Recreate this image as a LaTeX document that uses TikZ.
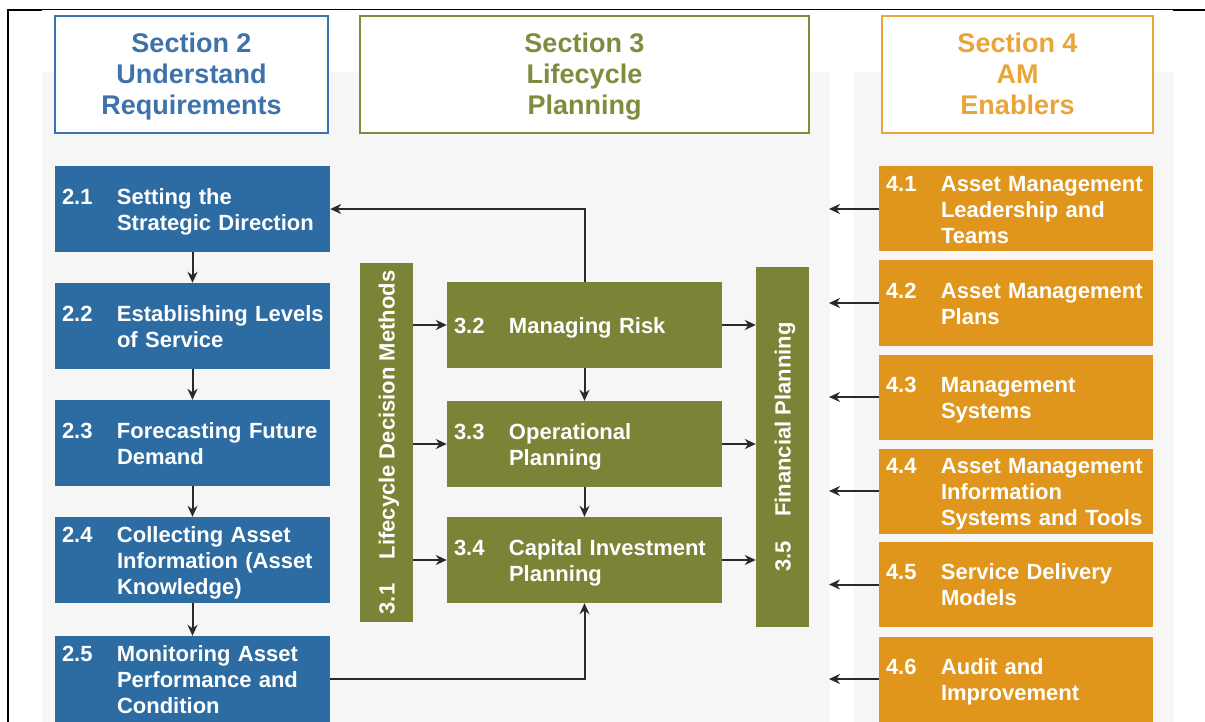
\documentclass[tikz,border=0pt]{standalone}
\usepackage{fontspec}
\usepackage{graphicx}
\setmainfont{Liberation Sans}
\usetikzlibrary{arrows.meta}

\definecolor{secblue}{HTML}{2D6CA2}
\definecolor{headblue}{HTML}{3E72AA}
\definecolor{secgreen}{HTML}{7A8336}
\definecolor{headgreen}{HTML}{7E8C3E}
\definecolor{secorange}{HTML}{E0961C}
\definecolor{headorange}{HTML}{E9A43A}
\definecolor{panelgray}{HTML}{F6F6F6}
\definecolor{arrowgray}{HTML}{2A2A2A}

\newcommand{\boxtext}[2]{\raisebox{-3pt}[\height][\depth]{\begin{tabular}{@{}p{55pt}@{}l@{}}#1 & \begin{tabular}[t]{@{}l@{}}#2\end{tabular}\end{tabular}}}
\newcommand{\headtext}[1]{\raisebox{-3pt}[\height][\depth]{\begin{tabular}{@{}c@{}}#1\end{tabular}}}

\tikzset{
  secbox/.style={minimum height=86pt, inner xsep=7pt, inner ysep=0pt, align=left, text=white,
    font=\fontsize{22}{26}\selectfont\bfseries},
  bluebox/.style={secbox, fill=secblue, minimum width=275pt, text width=261pt},
  greenbox/.style={secbox, fill=secgreen, minimum width=275pt, text width=261pt},
  orangebox/.style={secbox, fill=secorange, minimum width=274pt, text width=260pt, minimum height=85pt},
  greenbar/.style={fill=secgreen, text=white, inner sep=0pt, minimum width=53pt,
    font=\fontsize{22}{26}\selectfont\bfseries},
  headbox/.style={line width=1.5pt, fill=white, minimum height=117pt,
    font=\fontsize{27}{31}\selectfont\bfseries},
  arr/.style={draw=arrowgray, line width=2pt, -{Stealth[length=11pt,width=10pt]}},
}

\begin{document}
\begin{tikzpicture}[x=1pt,y=-1pt]
\useasboundingbox (0,0) rectangle (1205,722);

\fill[panelgray] (42,72) rectangle (830,722);
\fill[panelgray] (854,72) rectangle (1174,722);

\draw[line width=2.5pt] (8,722) -- (8,10) -- (42,10);
\draw[line width=1.2pt] (42,9.5) -- (1173,9.5);
\draw[line width=2.5pt] (1173,10) -- (1205,10);

% headers
\node[headbox, draw=headblue, text=headblue, minimum width=273pt] (h2) at (191.5,74.5) {\headtext{Section 2\\Understand\\Requirements}};
\node[headbox, draw=headgreen, text=headgreen, minimum width=449pt] (h3) at (584.5,74.5) {\headtext{Section 3\\Lifecycle\\Planning}};
\node[headbox, draw=headorange, text=headorange, minimum width=271pt] (h4) at (1017.5,74.5) {\headtext{Section 4\\AM\\Enablers}};

% section 2
\node[bluebox] (b21) at (192.5,209) {\boxtext{2.1}{Setting the\\Strategic Direction}};
\node[bluebox] (b22) at (192.5,326) {\boxtext{2.2}{Establishing Levels\\of Service}};
\node[bluebox] (b23) at (192.5,443) {\boxtext{2.3}{Forecasting Future\\Demand}};
\node[bluebox] (b24) at (192.5,560) {\boxtext{2.4}{Collecting Asset\\Information (Asset\\Knowledge)}};
\node[bluebox] (b25) at (192.5,679) {\boxtext{2.5}{Monitoring Asset\\Performance and\\Condition}};

% section 3
\node[greenbar, minimum height=359pt] (b31) at (386.5,442.5) {\rotatebox{90}{\boxtext{3.1}{Lifecycle Decision Methods}}};
\node[greenbox] (b32) at (584.5,325) {\boxtext{3.2}{Managing Risk}};
\node[greenbox] (b33) at (584.5,444) {\boxtext{3.3}{Operational\\Planning}};
\node[greenbox] (b34) at (584.5,560) {\boxtext{3.4}{Capital Investment\\Planning}};
\node[greenbar, minimum height=360pt] (b35) at (782.5,447) {\rotatebox{90}{\boxtext{3.5}{Financial Planning}}};

% section 4
\node[orangebox] (b41) at (1016,209) {\boxtext{4.1}{Asset Management\\Leadership and\\Teams}};
\node[orangebox] (b42) at (1016,303) {\boxtext{4.2}{Asset Management\\Plans}};
\node[orangebox] (b43) at (1016,397) {\boxtext{4.3}{Management\\Systems}};
\node[orangebox] (b44) at (1016,491) {\boxtext{4.4}{Asset Management\\Information\\Systems and Tools}};
\node[orangebox] (b45) at (1016,584.5) {\boxtext{4.5}{Service Delivery\\Models}};
\node[orangebox] (b46) at (1016,679) {\boxtext{4.6}{Audit and\\Improvement}};

\coordinate (gap) at (829,0);

\draw[arr] (b21) -- (b22);
\draw[arr] (b22) -- (b23);
\draw[arr] (b23) -- (b24);
\draw[arr] (b24) -- (b25);
\draw[arr] (b25.east) -| (b34.south);
\draw[arr] (b32.north) |- (b21.east);

\draw[arr] (b32) -- (b33);
\draw[arr] (b33) -- (b34);
\draw[arr] (b31.east |- b32.west) -- (b32.west);
\draw[arr] (b31.east |- b33.west) -- (b33.west);
\draw[arr] (b31.east |- b34.west) -- (b34.west);
\draw[arr] (b32.east) -- (b32.east -| b35.west);
\draw[arr] (b33.east) -- (b33.east -| b35.west);
\draw[arr] (b34.east) -- (b34.east -| b35.west);

\draw[arr] (b41.west) -- (b41.west -| gap);
\draw[arr] (b42.west) -- (b42.west -| gap);
\draw[arr] (b43.west) -- (b43.west -| gap);
\draw[arr] (b44.west) -- (b44.west -| gap);
\draw[arr] (b45.west) -- (b45.west -| gap);
\draw[arr] (b46.west) -- (b46.west -| gap);

\end{tikzpicture}
\end{document}
